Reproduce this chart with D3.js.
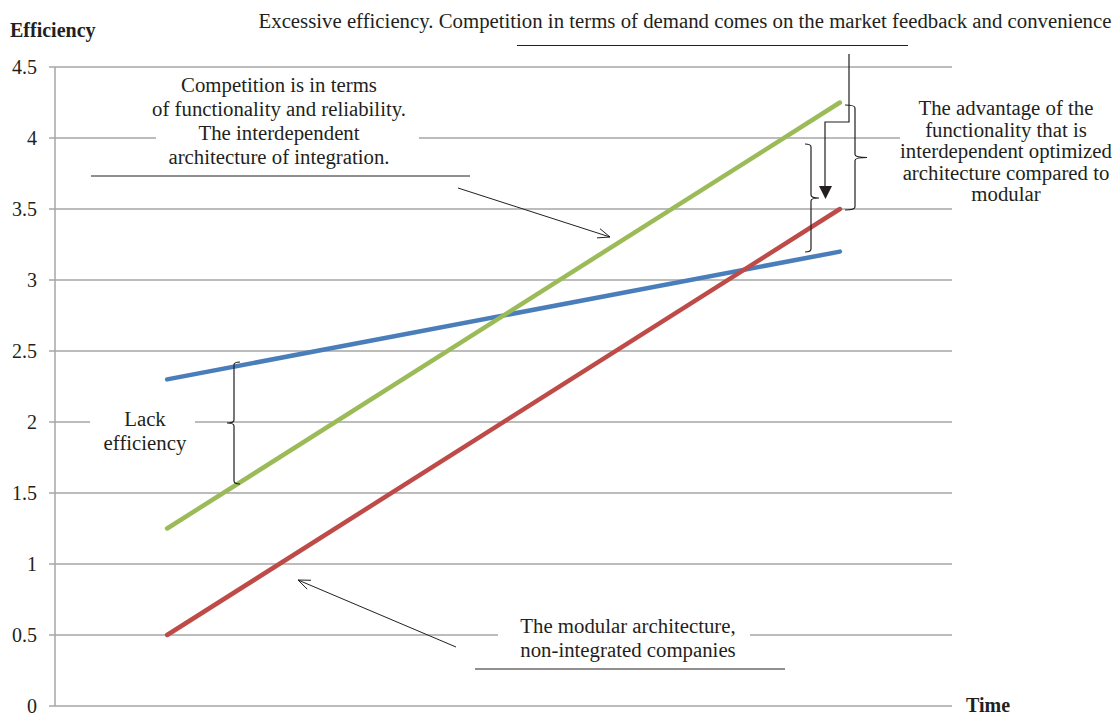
<!DOCTYPE html>
<html>
<head>
<meta charset="utf-8">
<script src="https://d3js.org/d3.v7.min.js"></script>
<style>
  body { margin: 0; background: #fff; }
  text { font-family: "Liberation Serif", "Times New Roman", serif; fill: #231f20; }
</style>
</head>
<body>
<script>

  // data: two time points, straight lines
  var timePoints = [0.5, 3.5];
  var modularValues = [0.5, 3.5];      // red
  var integratedValues = [1.25, 4.25]; // green
  var demandValues = [2.3, 3.2];       // blue
  var yTicks = [0, 0.5, 1, 1.5, 2, 2.5, 3, 3.5, 4, 4.5];

  var series = [
    { name: "demand", color: "#4a7ebb", values: demandValues },
    { name: "integrated", color: "#9bbb59", values: integratedValues },
    { name: "modular", color: "#be4b48", values: modularValues }
  ];

  var width = 1120, height = 715;
  var plotLeft = 55, plotRight = 952, plotTop = 67, plotBottom = 706;

  var svg = d3.select("body").append("svg")
    .attr("width", width)
    .attr("height", height);

  var x = d3.scaleLinear().domain([0, 4]).range([plotLeft, plotRight]);
  var y = d3.scaleLinear().domain([0, 4.5]).range([plotBottom, plotTop]);

  // gridlines
  svg.append("g").selectAll("line")
    .data(yTicks)
    .enter().append("line")
      .attr("x1", plotLeft - 6)
      .attr("x2", plotRight)
      .attr("y1", function(d) { return y(d); })
      .attr("y2", function(d) { return y(d); })
      .attr("stroke", "#a6a6a6")
      .attr("stroke-width", 1.5);

  svg.append("line")
    .attr("x1", plotLeft).attr("x2", plotLeft)
    .attr("y1", y(4.5)).attr("y2", y(0))
    .attr("stroke", "#a6a6a6")
    .attr("stroke-width", 1.5);

  // tick labels
  svg.append("g").selectAll("text")
    .data(yTicks)
    .enter().append("text")
      .attr("x", 37)
      .attr("y", function(d) { return y(d); })
      .attr("dy", "0.35em")
      .attr("text-anchor", "end")
      .style("font-size", "20px")
      .text(function(d) { return d; });

  svg.append("text")
    .attr("x", 10).attr("y", 37)
    .style("font-size", "20px").style("font-weight", "bold")
    .text("Efficiency");

  svg.append("text")
    .attr("x", 966).attr("y", 712)
    .style("font-size", "20px").style("font-weight", "bold")
    .text("Time");

  // white boxes behind text labels, on top of gridlines
  var boxes = [
    [156, 70, 263, 100],
    [90, 400, 105, 52],
    [498, 610, 252, 52],
    [900, 92, 218, 112]
  ];
  svg.append("g").selectAll("rect")
    .data(boxes)
    .enter().append("rect")
      .attr("x", function(d) { return d[0]; })
      .attr("y", function(d) { return d[1]; })
      .attr("width", function(d) { return d[2]; })
      .attr("height", function(d) { return d[3]; })
      .attr("fill", "#fff");

  // lines
  var line = d3.line()
    .x(function(d, i) { return x(timePoints[i]); })
    .y(function(d) { return y(d); });

  svg.append("g").selectAll("path")
    .data(series)
    .enter().append("path")
      .attr("d", function(d) { return line(d.values); })
      .attr("fill", "none")
      .attr("stroke", function(d) { return d.color; })
      .attr("stroke-width", 4.5)
      .attr("stroke-linecap", "round");

  // annotations
  var ink = "#231f20";
  var ann = svg.append("g");

  function textBlock(lines, cx, y0, lh, size) {
    var t = ann.append("text")
      .attr("text-anchor", "middle")
      .style("font-size", size + "px");
    lines.forEach(function(s, i) {
      t.append("tspan").attr("x", cx).attr("y", y0 + i * lh).text(s);
    });
  }

  function seg(x1, y1, x2, y2, w) {
    ann.append("line")
      .attr("x1", x1).attr("y1", y1).attr("x2", x2).attr("y2", y2)
      .attr("stroke", ink).attr("stroke-width", w || 1);
  }

  function openArrow(x1, y1, x2, y2) {
    seg(x1, y1, x2, y2);
    var a = Math.atan2(y2 - y1, x2 - x1), L = 13, s = 0.38;
    seg(x2, y2, x2 - L * Math.cos(a - s), y2 - L * Math.sin(a - s));
    seg(x2, y2, x2 - L * Math.cos(a + s), y2 - L * Math.sin(a + s));
  }

  // curly brace: dir = 1 for "}" (middle points right), -1 for "{"
  function brace(bx, y1, y2, w, m, dir) {
    var ym = (y1 + y2) / 2, r = 3;
    var p = d3.path();
    p.moveTo(bx - dir * w, y1);
    p.quadraticCurveTo(bx, y1, bx, y1 + r);
    p.lineTo(bx, ym - r);
    p.quadraticCurveTo(bx, ym, bx + dir * m, ym);
    p.quadraticCurveTo(bx, ym, bx, ym + r);
    p.lineTo(bx, y2 - r);
    p.quadraticCurveTo(bx, y2, bx - dir * w, y2);
    ann.append("path").attr("d", p.toString())
      .attr("fill", "none").attr("stroke", ink).attr("stroke-width", 1.2);
  }

  textBlock(["Excessive efficiency. Competition in terms of demand comes on the market feedback and convenience"],
    685, 28, 0, 20.8);
  seg(517, 45.5, 908, 45.5);

  // elbow arrow down to red line
  ann.append("path")
    .attr("d", "M849,54 L849,122 L825,122 L825,186")
    .attr("fill", "none").attr("stroke", ink).attr("stroke-width", 1.2);
  ann.append("path")
    .attr("d", "M819,186 L832,186 L825.5,199 Z")
    .attr("fill", ink);

  brace(855, 105, 210, 10, 12, 1);
  brace(811, 144, 252, 6, 8, 1);

  textBlock(["The advantage of the", "functionality that is", "interdependent optimized",
    "architecture compared to", "modular"], 1006, 115, 21.5, 20.8);

  textBlock(["Competition is in terms", "of functionality and reliability.",
    "The interdependent", "architecture of integration."], 279, 92, 24, 20.8);
  seg(91, 176, 470, 176);
  openArrow(458, 188, 610, 237);

  brace(234, 362, 484, 6, 7, -1);
  textBlock(["Lack", "efficiency"], 145, 426, 24, 20.8);

  textBlock(["The modular architecture,", "non-integrated companies"], 628, 633, 24, 20.8);
  seg(475, 669, 785, 669);
  openArrow(456, 647, 298, 580);

</script>
</body>
</html>
